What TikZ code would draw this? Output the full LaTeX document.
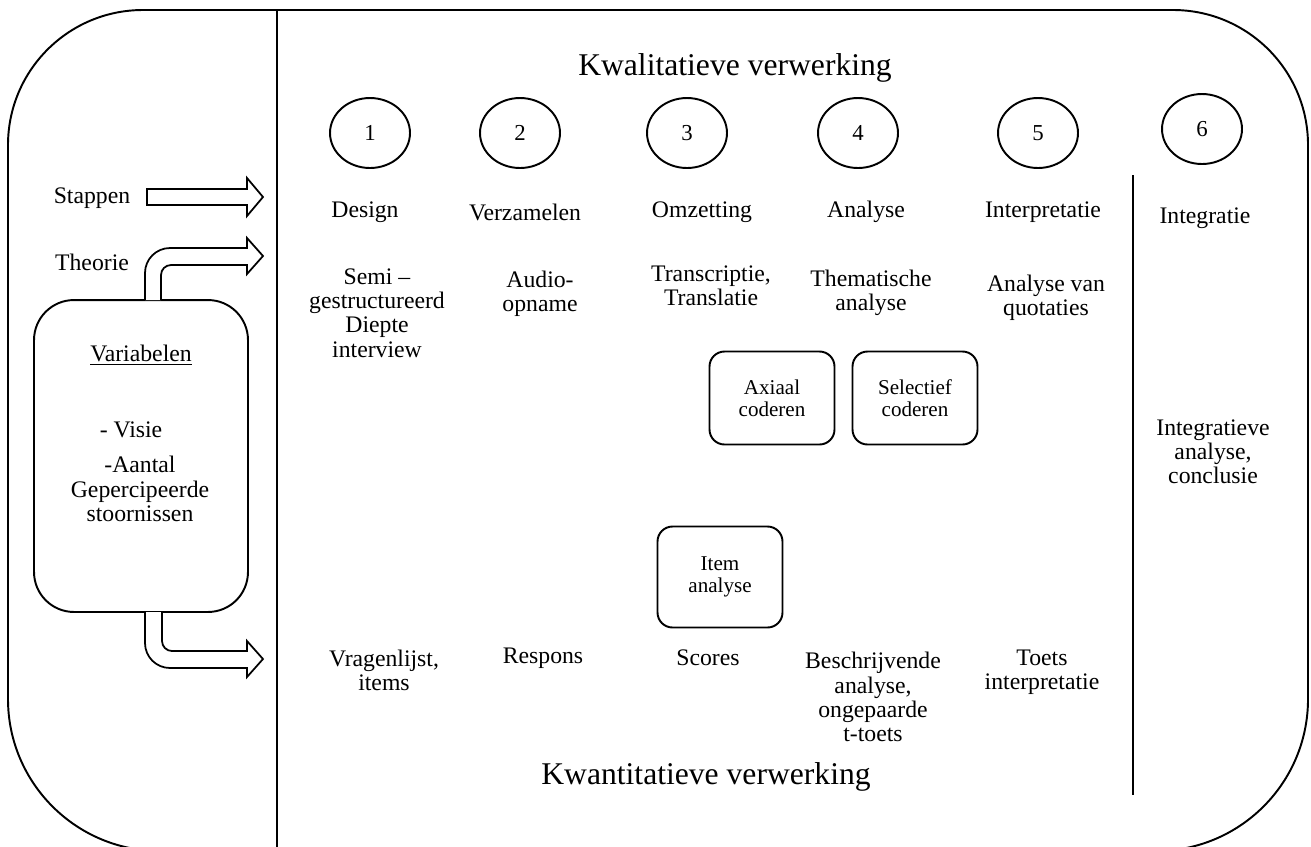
\documentclass[tikz,border=0pt]{standalone}
\usepackage{fontspec}
\setmainfont{Liberation Serif}
\usetikzlibrary{shapes.geometric}
\tikzset{
  rand/.style={draw,line width=1.1pt},
  titel/.style={font=\fontsize{18}{20}\selectfont},
  tekst/.style={align=center,inner sep=0pt,font=\fontsize{13.5}{13.8}\selectfont},
  stapbol/.style={draw,ellipse,line width=1.1pt,minimum width=1.6cm,minimum height=1.4cm,inner sep=0pt,font=\fontsize{13}{14}\selectfont},
  codeerbox/.style={draw,rounded corners=0.3cm,line width=1.1pt,minimum width=2.5cm,minimum height=1.86cm,align=center,font=\fontsize{12}{12.5}\selectfont},
  varbox/.style={draw,rounded corners=0.8cm,line width=1.1pt,minimum width=4.28cm,minimum height=6.24cm},
  holpijl/.style={draw,line width=1pt,fill=white,line join=miter},
}
\begin{document}
\begin{tikzpicture}[x=0.02cm,y=-0.02cm]
\useasboundingbox (0,0) rectangle (1311,846);
\clip (0,0) rectangle (1311,846);
% frame and dividers
\draw[rand,rounded corners=2.7cm] (8,500) -- (8,10) -- (1308,10) -- (1308,500);
\draw[rand,rounded corners=3.04cm] (8,500) -- (8,851) -- (1308,851) -- (1308,500);
\draw[rand] (277,10) -- (277,848);
\draw[rand] (1133,175) -- (1133,795);

\node[titel] (kwal) at (735,68) {Kwalitatieve verwerking};
\node[titel] (kwan) at (706,777) {Kwantitatieve verwerking};

% steps
\foreach \n/\x in {1/370,2/520,3/687,4/858,5/1038}
  \node[stapbol] (c\n) at (\x,133) {\n};
\node[stapbol] (c6) at (1202,129) {6};

\foreach \nm/\x/\t in {design/365/Design,verz/525/Verzamelen,omz/702/Omzetting,ana/866/Analyse,interp/1043/Interpretatie}
  \node[tekst] (\nm) at (\x,212) {\t};
\node[tekst] (integ) at (1205,218) {Integratie};

% qualitative
\node[tekst] (semi) at (377,313) {Semi –\\gestructureerd\\Diepte\\interview};
\node[tekst] (audio) at (540,294) {Audio-\\opname};
\node[tekst] (trans) at (711,286) {Transcriptie,\\Translatie};
\node[tekst] (them) at (871,293) {Thematische\\analyse};
\node[tekst] (quot) at (1046,298) {Analyse van\\quotaties};
\node[codeerbox] (axiaal) at (772,398) {Axiaal\\coderen};
\node[codeerbox] (selectief) at (915,398) {Selectief\\coderen};
\node[tekst] (concl) at (1213,452) {Integratieve\\analyse,\\conclusie};

% quantitative
\node[codeerbox,minimum height=2.02cm] (item) at (720,577) {Item\\analyse};
\node[tekst] (vrag) at (384,670) {Vragenlijst,\\items};
\node[tekst] (resp) at (543,658) {Respons};
\node[tekst] (scores) at (708,658) {Scores};
\node[tekst] (beschr) at (873,697) {Beschrijvende\\analyse,\\ongepaarde\\t-toets};
\node[tekst] (toets) at (1042,672) {Toets\\interpretatie};

% left part
\node[tekst] (stappen) at (92,198) {Stappen};
\node[tekst] (theorie) at (92,262) {Theorie};
\node[varbox] (var) at (141,456) {};
\node[tekst] (varkop) at (141,355) {\underline{Variabelen}};
\node[tekst] (visie) at (131,430) {- Visie};
\node[tekst] (aantal) at (140,489) {-Aantal\\Gepercipeerde\\stoornissen};

\draw[holpijl] (147,189) -- (247,189) -- (247,178) -- (263,197) -- (247,216) -- (247,205) -- (147,205) -- cycle;
\draw[holpijl] (161,300) -- (161,275) .. controls (161,269.5) and (165.5,265) .. (171,265)
  -- (247,265) -- (247,274) -- (263,256) -- (247,238) -- (247,248) -- (170,248)
  .. controls (156.2,248) and (145,259.2) .. (145,273) -- (145,300);
\draw[holpijl] (162,612) -- (162,641) .. controls (162,646.5) and (166.5,651) .. (172,651)
  -- (247,651) -- (247,641) -- (263,659) -- (247,677) -- (247,668) -- (170,668)
  .. controls (156.2,668) and (145,656.8) .. (145,643) -- (145,612);
\end{tikzpicture}
\end{document}
